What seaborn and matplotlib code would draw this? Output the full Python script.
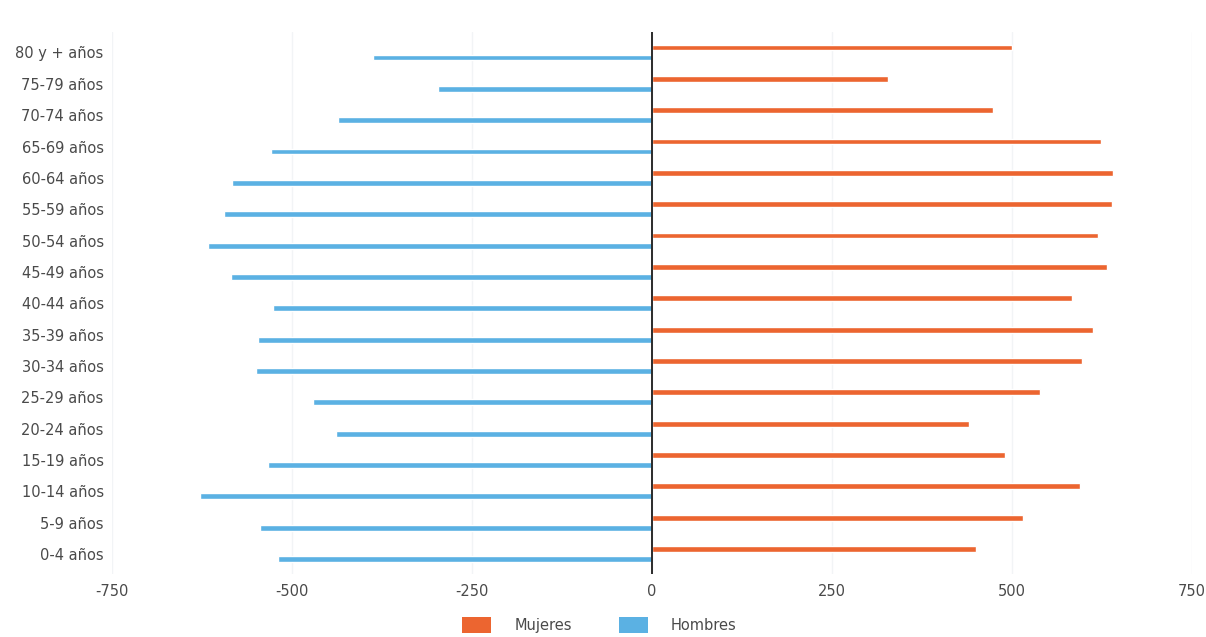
import matplotlib
matplotlib.use("Agg")
import matplotlib.pyplot as plt
from matplotlib.patches import Patch
import seaborn as sns
import pandas as pd

# Age groups, from oldest (top) to youngest (bottom)
age_groups = ["80 y + años", "75-79 años", "70-74 años", "65-69 años", "60-64 años",
              "55-59 años", "50-54 años", "45-49 años", "40-44 años", "35-39 años",
              "30-34 años", "25-29 años", "20-24 años", "15-19 años", "10-14 años",
              "5-9 años", "0-4 años"]

# Population by sex (men drawn to the left as negative values)
mujeres = [500, 328, 474, 623, 640, 639, 619, 632, 583, 613, 597, 539, 440, 490, 594, 515, 450]
hombres = [-387, -297, -436, -529, -583, -594, -617, -585, -526, -547, -550, -471, -439, -534, -628, -545, -520]

series = ["Mujeres", "Hombres"]
colors = {"Mujeres": "#EC6530", "Hombres": "#5BB1E3"}

x_ticks = [-750, -500, -250, 0, 250, 500, 750]

df = pd.DataFrame({
    "grupo": age_groups * 2,
    "valor": mujeres + hombres,
    "sexo": ["Mujeres"] * len(age_groups) + ["Hombres"] * len(age_groups),
})

sns.set_theme(style="white")
plt.rcParams["font.family"] = ["DejaVu Sans"]

fig = plt.figure(figsize=(12.06, 6.37), dpi=100)
ax = fig.add_axes([0.0929, 0.0982, 0.8955, 0.8514])

sns.barplot(data=df, x="valor", y="grupo", hue="sexo", order=age_groups,
            hue_order=series, palette=colors, orient="h", width=0.64, gap=0.42,
            dodge=True, ax=ax, legend=False, saturation=1)

ax.set_xlim(-750, 750)
ax.set_ylim(len(age_groups) - 0.35, -0.65)
ax.set_xticks(x_ticks)
ax.set_xticklabels([str(t) for t in x_ticks])
for t in x_ticks:
    ax.axvline(t, color="#f2f4f6", lw=1, zorder=0)
ax.axvline(0, color="#2b2b2b", lw=1.4, zorder=3)

ax.set_xlabel("")
ax.set_ylabel("")
for s in ax.spines.values():
    s.set_visible(False)
ax.tick_params(axis="both", length=0, labelsize=10.5, colors="#4a4a4a")
ax.tick_params(axis="y", pad=6)
ax.tick_params(axis="x", pad=7)

handles = [Patch(facecolor=colors[s], edgecolor="none") for s in series]
fig.legend(handles, series, loc="lower center", bbox_to_anchor=(0.497, -0.014),
           ncol=2, frameon=False, fontsize=10.5, handlelength=2.0, handleheight=1.3,
           columnspacing=3.2, handletextpad=1.6, labelcolor="#4a4a4a")

fig.savefig("out.png", dpi=100, facecolor="white")
